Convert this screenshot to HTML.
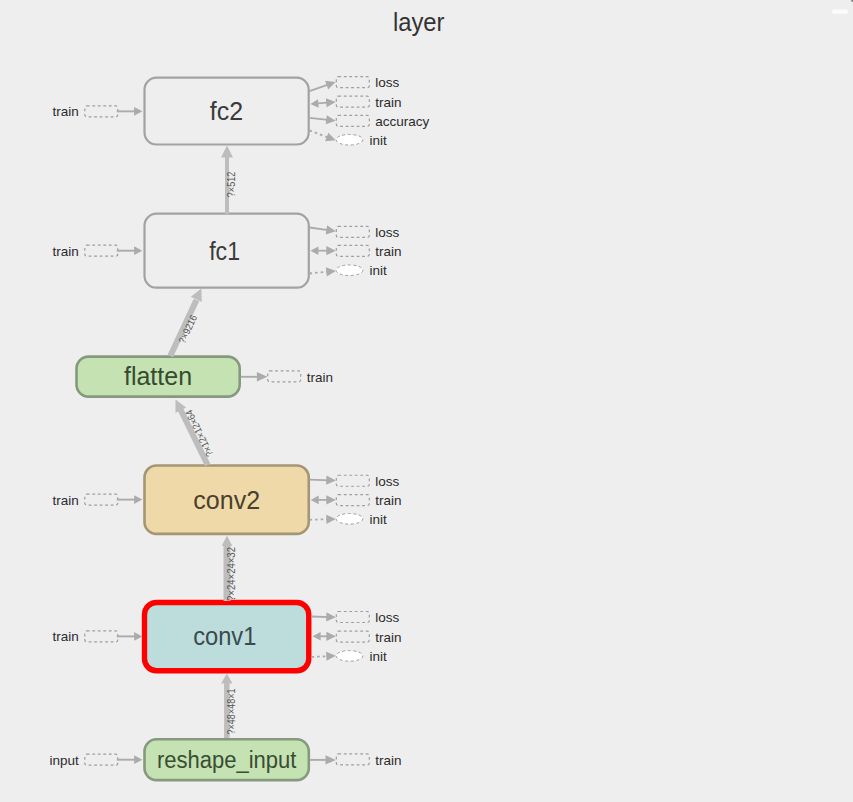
<!DOCTYPE html>
<html><head><meta charset="utf-8"><style>
html,body{margin:0;padding:0;background:#eeeeee;width:853px;height:802px;overflow:hidden}
svg{display:block}
text{font-family:"Liberation Sans",sans-serif}
</style></head><body>
<svg width="853" height="802" viewBox="0 0 853 802">
<rect width="853" height="802" fill="#eeeeee"/>
<text x="418.7" y="31" font-size="26" fill="#333333" text-anchor="middle" textLength="51.6" lengthAdjust="spacingAndGlyphs" >layer</text>
<rect x="144.5" y="77.7" width="164.2" height="66.8" rx="12" ry="12" fill="#eeeeee" stroke="#a2a2a2" stroke-width="2.2"/>
<rect x="144.5" y="213.7" width="164.3" height="74" rx="12" ry="12" fill="#eeeeee" stroke="#a2a2a2" stroke-width="2.2"/>
<rect x="76.5" y="356.6" width="163.2" height="40" rx="12" ry="12" fill="#c5e2b3" stroke="#85997e" stroke-width="2.6"/>
<rect x="144.5" y="465.5" width="164.25" height="68.4" rx="12" ry="12" fill="#efd9a8" stroke="#a49674" stroke-width="2.6"/>
<rect x="144.5" y="602.5" width="164.25" height="68.25" rx="12" ry="12" fill="#bddcdc" stroke="#ff0000" stroke-width="5.4"/>
<rect x="144.5" y="739.3" width="164.3" height="40.8" rx="12" ry="12" fill="#c5e2b3" stroke="#85997e" stroke-width="2.6"/>
<text x="226.5" y="119.9" font-size="25" fill="#3a3a3a" text-anchor="middle" >fc2</text>
<text x="224.6" y="259.9" font-size="25" fill="#3a3a3a" text-anchor="middle" textLength="30.8" lengthAdjust="spacingAndGlyphs" >fc1</text>
<text x="158" y="384.5" font-size="25" fill="#364a30" text-anchor="middle" >flatten</text>
<text x="226.7" y="508.8" font-size="25" fill="#4a402c" text-anchor="middle" >conv2</text>
<text x="224.8" y="644.5" font-size="25" fill="#384b4d" text-anchor="middle" textLength="63.2" lengthAdjust="spacingAndGlyphs" >conv1</text>
<text x="226.7" y="767.6" font-size="23" fill="#384d32" text-anchor="middle" textLength="139.5" lengthAdjust="spacingAndGlyphs" >reshape_input</text>
<rect x="84.8" y="105.85" width="33" height="11" rx="2" fill="none" stroke="#9e9e9e" stroke-width="1.2" stroke-dasharray="2.8,2.7"/>
<text x="78.8" y="116.35" font-size="13.5" fill="#2b2b2b" text-anchor="end" >train</text>
<line x1="116.8" y1="111.35" x2="137.42000000000002" y2="111.35" stroke="#ababab" stroke-width="1.9"/>
<polygon points="142.40,111.35 134.10,115.75 134.10,106.95" fill="#ababab"/>
<rect x="84.8" y="245.2" width="33" height="11" rx="2" fill="none" stroke="#9e9e9e" stroke-width="1.2" stroke-dasharray="2.8,2.7"/>
<text x="78.8" y="255.7" font-size="13.5" fill="#2b2b2b" text-anchor="end" >train</text>
<line x1="116.8" y1="250.7" x2="137.42000000000002" y2="250.7" stroke="#ababab" stroke-width="1.9"/>
<polygon points="142.40,250.70 134.10,255.10 134.10,246.30" fill="#ababab"/>
<rect x="84.8" y="494.1" width="33" height="11" rx="2" fill="none" stroke="#9e9e9e" stroke-width="1.2" stroke-dasharray="2.8,2.7"/>
<text x="78.8" y="504.6" font-size="13.5" fill="#2b2b2b" text-anchor="end" >train</text>
<line x1="116.8" y1="499.6" x2="137.42000000000002" y2="499.6" stroke="#ababab" stroke-width="1.9"/>
<polygon points="142.40,499.60 134.10,504.00 134.10,495.20" fill="#ababab"/>
<rect x="84.8" y="630.9" width="33" height="11" rx="2" fill="none" stroke="#9e9e9e" stroke-width="1.2" stroke-dasharray="2.8,2.7"/>
<text x="78.8" y="641.4" font-size="13.5" fill="#2b2b2b" text-anchor="end" >train</text>
<line x1="116.8" y1="636.4" x2="137.42000000000002" y2="636.4" stroke="#ababab" stroke-width="1.9"/>
<polygon points="142.40,636.40 134.10,640.80 134.10,632.00" fill="#ababab"/>
<rect x="84.8" y="754.2" width="33" height="11" rx="2" fill="none" stroke="#9e9e9e" stroke-width="1.2" stroke-dasharray="2.8,2.7"/>
<text x="78.8" y="764.7" font-size="13.5" fill="#2b2b2b" text-anchor="end" >input</text>
<line x1="116.8" y1="759.7" x2="137.42000000000002" y2="759.7" stroke="#ababab" stroke-width="1.9"/>
<polygon points="142.40,759.70 134.10,764.10 134.10,755.30" fill="#ababab"/>
<rect x="336.3" y="76.65" width="33" height="11" rx="2" fill="none" stroke="#9e9e9e" stroke-width="1.2" stroke-dasharray="2.8,2.7"/>
<text x="375.2" y="87.15" font-size="13.5" fill="#2b2b2b" text-anchor="start" >loss</text>
<rect x="336.3" y="96.15" width="33" height="11" rx="2" fill="none" stroke="#9e9e9e" stroke-width="1.2" stroke-dasharray="2.8,2.7"/>
<text x="375.2" y="106.65" font-size="13.5" fill="#2b2b2b" text-anchor="start" >train</text>
<rect x="336.3" y="115.35" width="33" height="11" rx="2" fill="none" stroke="#9e9e9e" stroke-width="1.2" stroke-dasharray="2.8,2.7"/>
<text x="375.2" y="125.85" font-size="13.5" fill="#2b2b2b" text-anchor="start" >accuracy</text>
<ellipse cx="349.5" cy="139.75" rx="13.4" ry="5.3" fill="#ffffff" stroke="#9e9e9e" stroke-width="1" stroke-dasharray="3,2.5"/>
<text x="369.6" y="144.85" font-size="13.5" fill="#2b2b2b" text-anchor="start" >init</text>
<rect x="336.3" y="226.4" width="33" height="11" rx="2" fill="none" stroke="#9e9e9e" stroke-width="1.2" stroke-dasharray="2.8,2.7"/>
<text x="375.2" y="236.9" font-size="13.5" fill="#2b2b2b" text-anchor="start" >loss</text>
<rect x="336.3" y="245.35" width="33" height="11" rx="2" fill="none" stroke="#9e9e9e" stroke-width="1.2" stroke-dasharray="2.8,2.7"/>
<text x="375.2" y="255.85" font-size="13.5" fill="#2b2b2b" text-anchor="start" >train</text>
<ellipse cx="349.5" cy="270.25" rx="13.4" ry="5.3" fill="#ffffff" stroke="#9e9e9e" stroke-width="1" stroke-dasharray="3,2.5"/>
<text x="369.6" y="275.35" font-size="13.5" fill="#2b2b2b" text-anchor="start" >init</text>
<rect x="336.3" y="475.25" width="33" height="11" rx="2" fill="none" stroke="#9e9e9e" stroke-width="1.2" stroke-dasharray="2.8,2.7"/>
<text x="375.2" y="485.75" font-size="13.5" fill="#2b2b2b" text-anchor="start" >loss</text>
<rect x="336.3" y="494.55" width="33" height="11" rx="2" fill="none" stroke="#9e9e9e" stroke-width="1.2" stroke-dasharray="2.8,2.7"/>
<text x="375.2" y="505.05" font-size="13.5" fill="#2b2b2b" text-anchor="start" >train</text>
<ellipse cx="349.5" cy="518.8" rx="13.4" ry="5.3" fill="#ffffff" stroke="#9e9e9e" stroke-width="1" stroke-dasharray="3,2.5"/>
<text x="369.6" y="523.9" font-size="13.5" fill="#2b2b2b" text-anchor="start" >init</text>
<rect x="336.3" y="611.5" width="33" height="11" rx="2" fill="none" stroke="#9e9e9e" stroke-width="1.2" stroke-dasharray="2.8,2.7"/>
<text x="375.2" y="622.0" font-size="13.5" fill="#2b2b2b" text-anchor="start" >loss</text>
<rect x="336.3" y="631.1" width="33" height="11" rx="2" fill="none" stroke="#9e9e9e" stroke-width="1.2" stroke-dasharray="2.8,2.7"/>
<text x="375.2" y="641.6" font-size="13.5" fill="#2b2b2b" text-anchor="start" >train</text>
<ellipse cx="349.5" cy="655.9" rx="13.4" ry="5.3" fill="#ffffff" stroke="#9e9e9e" stroke-width="1" stroke-dasharray="3,2.5"/>
<text x="369.6" y="661.0" font-size="13.5" fill="#2b2b2b" text-anchor="start" >init</text>
<line x1="309.5" y1="91.1" x2="330.2241950275655" y2="83.79491976039837" stroke="#ababab" stroke-width="1.8"/>
<polygon points="335.60,81.90 328.17,89.40 325.11,80.72" fill="#ababab"/>
<line x1="315.1835497788984" y1="103.70294646104004" x2="330.0195346375581" y2="102.47150107751494" stroke="#ababab" stroke-width="1.8"/>
<polygon points="335.70,102.00 326.61,107.37 325.85,98.20" fill="#ababab"/>
<polygon points="310.40,104.10 318.02,99.15 318.73,107.72" fill="#ababab"/>
<line x1="309.5" y1="117.8" x2="330.03700323305964" y2="120.15156525569385" stroke="#ababab" stroke-width="1.8"/>
<polygon points="335.70,120.80 325.74,124.29 326.78,115.15" fill="#ababab"/>
<line x1="309.5" y1="130.4" x2="330.27051409998865" y2="138.27847086551293" stroke="#ababab" stroke-width="1.8" stroke-dasharray="2.6,3"/>
<polygon points="335.60,140.30 325.09,141.23 328.35,132.63" fill="#ababab"/>
<line x1="309.5" y1="227.5" x2="330.15558375270336" y2="230.40591862680617" stroke="#ababab" stroke-width="1.8"/>
<polygon points="335.80,231.20 325.75,234.43 327.03,225.32" fill="#ababab"/>
<line x1="315.2" y1="250.7" x2="330.1" y2="250.7" stroke="#ababab" stroke-width="1.8"/>
<polygon points="335.80,250.70 326.30,255.30 326.30,246.10" fill="#ababab"/>
<polygon points="310.40,250.70 318.40,246.40 318.40,255.00" fill="#ababab"/>
<line x1="309.5" y1="273.5" x2="330.12765100410604" y2="271.46076453951804" stroke="#ababab" stroke-width="1.8" stroke-dasharray="2.6,3"/>
<polygon points="335.80,270.90 326.80,276.41 325.89,267.26" fill="#ababab"/>
<line x1="309.5" y1="479.7" x2="330.1026351909177" y2="480.3266961274804" stroke="#ababab" stroke-width="1.8"/>
<polygon points="335.80,480.50 326.16,484.81 326.44,475.61" fill="#ababab"/>
<line x1="315.5" y1="499.9" x2="330.1" y2="499.9" stroke="#ababab" stroke-width="1.8"/>
<polygon points="335.80,499.90 326.30,504.50 326.30,495.30" fill="#ababab"/>
<polygon points="310.70,499.90 318.70,495.60 318.70,504.20" fill="#ababab"/>
<line x1="309.5" y1="519.8" x2="330.1026351909177" y2="519.1733038725196" stroke="#ababab" stroke-width="1.8" stroke-dasharray="2.6,3"/>
<polygon points="335.80,519.00 326.44,523.89 326.16,514.69" fill="#ababab"/>
<line x1="311.5" y1="616.5" x2="330.1023635141469" y2="617.0358705539055" stroke="#ababab" stroke-width="1.8"/>
<polygon points="335.80,617.20 326.17,621.52 326.44,612.33" fill="#ababab"/>
<line x1="317.40000000000003" y1="636.3" x2="330.1" y2="636.3" stroke="#ababab" stroke-width="1.8"/>
<polygon points="335.80,636.30 326.30,640.90 326.30,631.70" fill="#ababab"/>
<polygon points="312.60,636.30 320.60,632.00 320.60,640.60" fill="#ababab"/>
<line x1="311.5" y1="656.9" x2="330.105831104972" y2="656.0577607318736" stroke="#ababab" stroke-width="1.8" stroke-dasharray="2.6,3"/>
<polygon points="335.80,655.80 326.52,660.82 326.10,651.63" fill="#ababab"/>
<rect x="267.7" y="370.8" width="33" height="11" rx="2" fill="none" stroke="#9e9e9e" stroke-width="1.2" stroke-dasharray="2.8,2.7"/>
<text x="306.7" y="381.6" font-size="13.5" fill="#2b2b2b" text-anchor="start" >train</text>
<line x1="240.8" y1="376.8" x2="261.09999999999997" y2="376.8" stroke="#ababab" stroke-width="1.9"/>
<polygon points="267.40,376.80 256.90,381.50 256.90,372.10" fill="#ababab"/>
<rect x="336.3" y="753.9" width="33" height="11" rx="2" fill="none" stroke="#9e9e9e" stroke-width="1.2" stroke-dasharray="2.8,2.7"/>
<text x="375.2" y="764.7" font-size="13.5" fill="#2b2b2b" text-anchor="start" >train</text>
<line x1="309.8" y1="759.9" x2="329.62" y2="759.9" stroke="#ababab" stroke-width="1.9"/>
<polygon points="335.80,759.90 325.50,764.60 325.50,755.20" fill="#ababab"/>
<line x1="227" y1="214" x2="227" y2="152" stroke="#bdbdbd" stroke-width="4"/>
<polygon points="227.00,145.50 233.00,157.50 221.00,157.50" fill="#bdbdbd"/>
<line x1="170.3" y1="356" x2="196.5" y2="300" stroke="#bdbdbd" stroke-width="6"/>
<polygon points="201.40,288.50 201.75,301.91 190.88,296.83" fill="#bdbdbd"/>
<line x1="207.7" y1="465" x2="180.5" y2="409.5" stroke="#bdbdbd" stroke-width="6"/>
<polygon points="175.50,399.50 186.18,407.62 175.41,412.92" fill="#bdbdbd"/>
<line x1="227" y1="601" x2="227" y2="544" stroke="#bdbdbd" stroke-width="7"/>
<polygon points="227.00,535.50 232.30,546.00 221.70,546.00" fill="#bdbdbd"/>
<line x1="226.8" y1="738" x2="226.8" y2="682" stroke="#bdbdbd" stroke-width="5.5"/>
<polygon points="226.80,673.50 232.50,683.50 221.10,683.50" fill="#bdbdbd"/>
<text transform="translate(235,184.5) rotate(-90)" font-size="10" fill="#555555" text-anchor="middle" textLength="25.3" lengthAdjust="spacingAndGlyphs">?×512</text>
<text transform="translate(190.9,330.6) rotate(-64.9)" font-size="10" fill="#555555" text-anchor="middle" textLength="30.3" lengthAdjust="spacingAndGlyphs">?×9216</text>
<text transform="translate(202.4,431.7) rotate(-116.2)" font-size="10" fill="#555555" text-anchor="middle" textLength="50.8" lengthAdjust="spacingAndGlyphs">?×12×12×64</text>
<text transform="translate(235,574) rotate(-90)" font-size="10" fill="#555555" text-anchor="middle" textLength="53.9" lengthAdjust="spacingAndGlyphs">?×24×24×32</text>
<text transform="translate(235,711.5) rotate(-90)" font-size="10" fill="#555555" text-anchor="middle" textLength="45.8" lengthAdjust="spacingAndGlyphs">?×48×48×1</text>
<rect x="832" y="9.5" width="16" height="4.2" rx="2" fill="#fbfbfb"/>
<circle cx="853.5" cy="-0.5" r="2.8" fill="#8a8a8a"/>
</svg>
</body></html>
